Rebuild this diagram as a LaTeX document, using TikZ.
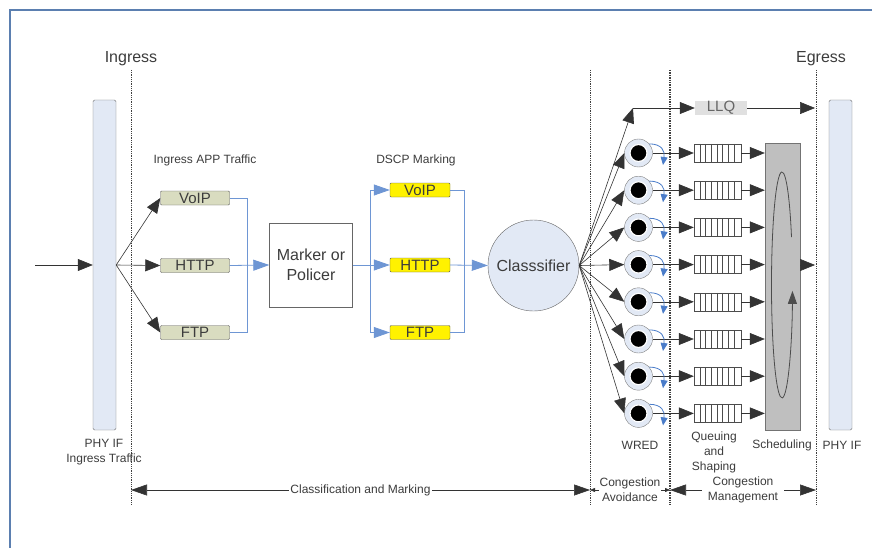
\documentclass[tikz,border=0pt]{standalone}
\usepackage{fontspec}
\setmainfont{Liberation Sans}
\usetikzlibrary{arrows.meta,positioning}
\definecolor{framecol}{HTML}{5B7FB0}
\definecolor{barfill}{HTML}{E2E9F5}
\definecolor{tagfill}{HTML}{D9DCC0}
\definecolor{flowblue}{HTML}{4A7CC9}
\definecolor{txtgray}{HTML}{3C3C3C}

\tikzset{
	every node/.style={text=txtgray},
	lbl/.style={font=\fontsize{12}{15}\selectfont,align=center,inner sep=1pt},
	biglbl/.style={font=\fontsize{16}{20}\selectfont,align=center},
	phybar/.style={rectangle,draw=black!55,fill=barfill,rounded corners=1.5pt,minimum width=23,minimum height=330,inner sep=0pt},
	apptag/.style={rectangle,draw=black!65,fill=tagfill,rounded corners=1pt,minimum width=69,minimum height=14,inner sep=0pt,font=\fontsize{15}{15}\selectfont},
	dscptag/.style={apptag,fill=yellow,minimum width=60},
	wred/.style={circle,draw=black!50,fill=barfill,minimum size=28,inner sep=0pt},
	queue/.style={rectangle,draw=black!70,fill=white,minimum width=47,minimum height=18,inner sep=0pt},
	flow/.style={-{Triangle[length=15pt,width=12pt]},black!80,line width=0.6pt},
	blueflow/.style={flowblue!80,line width=0.8pt},
	bluearr/.style={blueflow,-{Triangle[length=16pt,width=11pt]}},
	divider/.style={densely dotted,black!75,line width=0.8pt},
	dimarr/.style={{Triangle[length=16pt,width=11pt]}-{Triangle[length=16pt,width=11pt]},black!80,line width=0.6pt}
}

\begin{document}
\begin{tikzpicture}[x=1pt,y=-1pt]
	\useasboundingbox (0,0) rectangle (882,548);
	\draw [framecol,line width=2pt] (872,10) -- (10,10) -- (10,548);

	\foreach \x/\n in {131/ing,590/cls,816/egr}{
		\coordinate (\n top) at (\x,70);
		\coordinate (\n bot) at (\x,505);
		\draw [divider] (\n top) -- (\n bot);
	}
	\coordinate (cavtop) at (670,70);
	\coordinate (cavbot) at (670,505);
	\draw [divider,line width=1.4pt] (cavtop) -- (cavbot);
	\node (inglbl) [biglbl,above=1pt of ingtop] {Ingress};
	\node (egrlbl) [biglbl,above=1pt of egrtop,xshift=5pt] {Egress};

	\node (phyin) [phybar] at (104.5,265) {};
	\node (phyout) [phybar] at (840.5,265) {};
	\coordinate (inlet) at (35,265);
	\draw [flow] (inlet) -- (phyin.west);

	\node (ivoip) [apptag] at (195,198) {VoIP};
	\node (ihttp) [apptag] at (195,265.5) {HTTP};
	\node (iftp) [apptag] at (195,332.5) {FTP};
	\node (applbl) [lbl] at (205,160) {Ingress APP Traffic};
	\draw [flow] (phyin.east) -- (ivoip.west);
	\draw [flow] (phyin.east) -- (ihttp.west);
	\draw [flow] (phyin.east) -- (iftp.west);

	\node (marker) [rectangle,draw=black!60,fill=white,minimum width=83,minimum height=84,biglbl] at (311,265) {Marker or\\Policer};
	\coordinate (ibus) at (247,265);
	\draw [blueflow] (ivoip.east) -| (ibus);
	\draw [blueflow] (iftp.east) -| (ibus);
	\draw [bluearr] (ihttp.east) -- (marker.west);

	\node (dvoip) [dscptag] at (420,190) {VoIP};
	\node (dhttp) [dscptag] at (420,265) {HTTP};
	\node (dftp) [dscptag] at (420,332.5) {FTP};
	\node (dscplbl) [lbl] at (416,160) {DSCP Marking};
	\coordinate (dbus) at (370,265);
	\draw [bluearr] (marker.east) -- (dhttp.west);
	\draw [bluearr] (dbus) |- (dvoip.west);
	\draw [bluearr] (dbus) |- (dftp.west);

	\node (cls) [circle,draw=black!60,fill=barfill,minimum size=91,inner sep=0pt,biglbl] at (533.5,265.5) {Classsifier};
	\coordinate (cbus) at (464,265);
	\draw [blueflow] (dvoip.east) -| (cbus);
	\draw [blueflow] (dftp.east) -| (cbus);
	\draw [bluearr] (dhttp.east) -- (cls.west);

	\node (llq) [rectangle,fill=black!12,minimum width=52,minimum height=13,inner sep=0pt,font=\fontsize{15}{15}\selectfont,text=black!60] at (721,108) {LLQ};
	\coordinate (llqbend) at (633,108);
	\coordinate (llqout) at (815,108);
	\draw [flow] (cls.east) -- (llqbend);
	\draw [flow] (llqbend) -- (llq.west);
	\draw [flow] (llq.east) -- (llqout);

	\node (sched) [rectangle,draw=black!55,fill=black!25,minimum width=35,minimum height=287,inner sep=0pt] at (782.5,286.5) {};
	\draw [black!70,line width=0.8pt,-{Triangle[length=13pt,width=9pt]}] (791.5,237.2) arc [start angle=-25,end angle=-357,x radius=10.5,y radius=113];
	\coordinate (schedout) at (815,265);
	\draw [flow] (sched.east |- schedout) -- (schedout);

	\foreach \i in {0,...,7}{
		\pgfmathsetmacro\y{153+37.2*\i}
		\node (w\i) [wred] at (638.5,\y) {};
		\fill [black,draw=white,line width=1.2pt] (w\i) circle [radius=8.5];
		\node (q\i) [queue] at (717.5,\y) {};
		\foreach \k in {0,...,6}
			\draw [black!70] (700+5.67*\k,\y-9) -- ++(0,18);
		\draw [flow] (cls.east) -- (w\i.west);
		\draw [flow] (w\i.east) -- (q\i.west);
		\draw [flow] (q\i.east) -- (q\i.east -| sched.west);
		\draw [flowblue,line width=0.8pt,-{Triangle[length=8pt,width=7pt]}] (w\i.40) .. controls (662,\y-9) and (665,\y-2) .. (663,\y+12);
	}

	\node (phyinlbl) [lbl] at (104,452) {PHY IF\\Ingress Traffic};
	\node (wredlbl) [lbl] at (640,445) {WRED};
	\node (queuelbl) [lbl] at (714,452) {Queuing\\and\\Shaping};
	\node (schedlbl) [lbl] at (782,445) {Scheduling};
	\node (phyoutlbl) [lbl] at (842,445) {PHY IF};

	\coordinate (dimA) at (131,490);
	\coordinate (dimB) at (590,490);
	\coordinate (dimC) at (670,490);
	\coordinate (dimD) at (816,490);
	\draw [dimarr] (dimA) -- node [lbl,fill=white] {Classification and Marking} (dimB);
	\draw [{Triangle[length=5pt,width=4pt]}-{Triangle[length=5pt,width=4pt]},black!80] (dimB) -- node [lbl,fill=white] {Congestion\\Avoidance} (dimC);
	\draw [dimarr] (dimC) -- node [lbl,fill=white,inner xsep=6pt] {Congestion\\Management} (dimD);
\end{tikzpicture}
\end{document}
